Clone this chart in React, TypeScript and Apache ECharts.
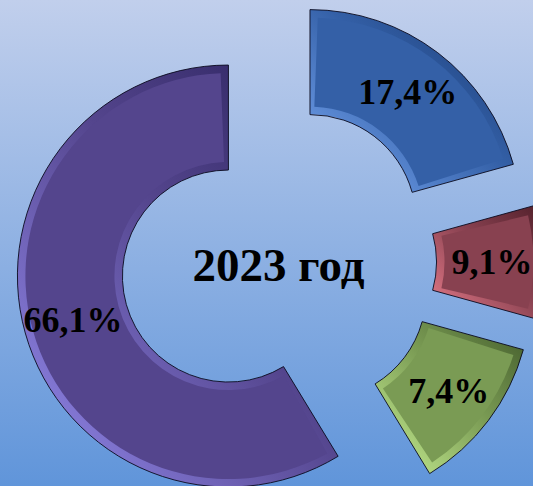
import { useEffect, useRef } from "react";
import * as echarts from "echarts";

// Slice names (not shown on the chart)
const categories = ["Доля 1", "Доля 2", "Доля 3", "Доля 4"];
const sliceShares = [20.7, 8.6, 12.0, 58.7];
// Label texts printed on the slices
const shareLabels = ["17,4%", "9,1%", "7,4%", "66,1%"];
const centerTitle = "2023 год";

const faceColors = ["#3460A7", "#884150", "#7A9B54", "#54458D"];
const bevelDark = ["#16356C", "#52202B", "#435C2B", "#28205A"];
const bevelLight = ["#7AAAF6", "#E87C8B", "#CAF294", "#958BF0"];

const FONT = "'Liberation Serif', 'Times New Roman', serif";

export default function App() {
  const ref = useRef<HTMLDivElement>(null);

  useEffect(() => {
    if (!ref.current) return;
    const chart = echarts.init(ref.current, null, { renderer: "svg" });
    const center = [278.5, 262];

    const baseData = categories.map((name, i) => ({
      name,
      value: sliceShares[i],
      selected: true,
      itemStyle: {
        color: {
          type: "linear",
          x: 1,
          y: 0,
          x2: 0,
          y2: 1,
          colorStops: [
            { offset: 0, color: bevelDark[i] },
            { offset: 0.45, color: faceColors[i] },
            { offset: 1, color: bevelLight[i] },
          ],
        },
        borderColor: "rgba(10,10,30,0.9)",
        borderWidth: 1,
      },
    }));

    const faceData = categories.map((name, i) => ({
      name,
      value: sliceShares[i],
      selected: true,
      itemStyle: { color: faceColors[i] },
    }));

    chart.setOption({
      animation: false,
      backgroundColor: {
        type: "linear",
        x: 0,
        y: 0,
        x2: 0,
        y2: 1,
        colorStops: [
          { offset: 0, color: "#C1CFEC" },
          { offset: 0.5, color: "#90B2E3" },
          { offset: 1, color: "#6095DA" },
        ],
      },
      graphic: [
        {
          type: "text",
          x: 278.5,
          y: 265,
          style: {
            text: centerTitle,
            x: 0,
            y: 0,
            font: `bold 47px ${FONT}`,
            fill: "#000",
            textAlign: "center",
            textVerticalAlign: "middle",
          },
        },
      ],
      series: [
        {
          type: "pie",
          center,
          radius: [106, 211],
          startAngle: 90,
          clockwise: true,
          selectedMode: "multiple",
          selectedOffset: 52,
          silent: true,
          emphasis: { disabled: true },
          label: { show: false },
          labelLine: { show: false },
          data: baseData,
        },
        {
          type: "pie",
          center,
          radius: [114, 203],
          startAngle: 90,
          clockwise: true,
          padAngle: 4.4,
          selectedMode: "multiple",
          selectedOffset: 52,
          silent: true,
          emphasis: { disabled: true },
          label: {
            show: true,
            position: "inside",
            formatter: (p: any) => shareLabels[p.dataIndex],
            fontFamily: FONT,
            fontWeight: "bold",
            fontSize: 36,
            color: "#000",
          },
          labelLine: { show: false },
          data: faceData,
        },
      ],
    });

    return () => chart.dispose();
  }, []);

  return (
    <div
      ref={ref}
      style={{ position: "fixed", left: 0, top: 0, width: 533, height: 486 }}
    />
  );
}
